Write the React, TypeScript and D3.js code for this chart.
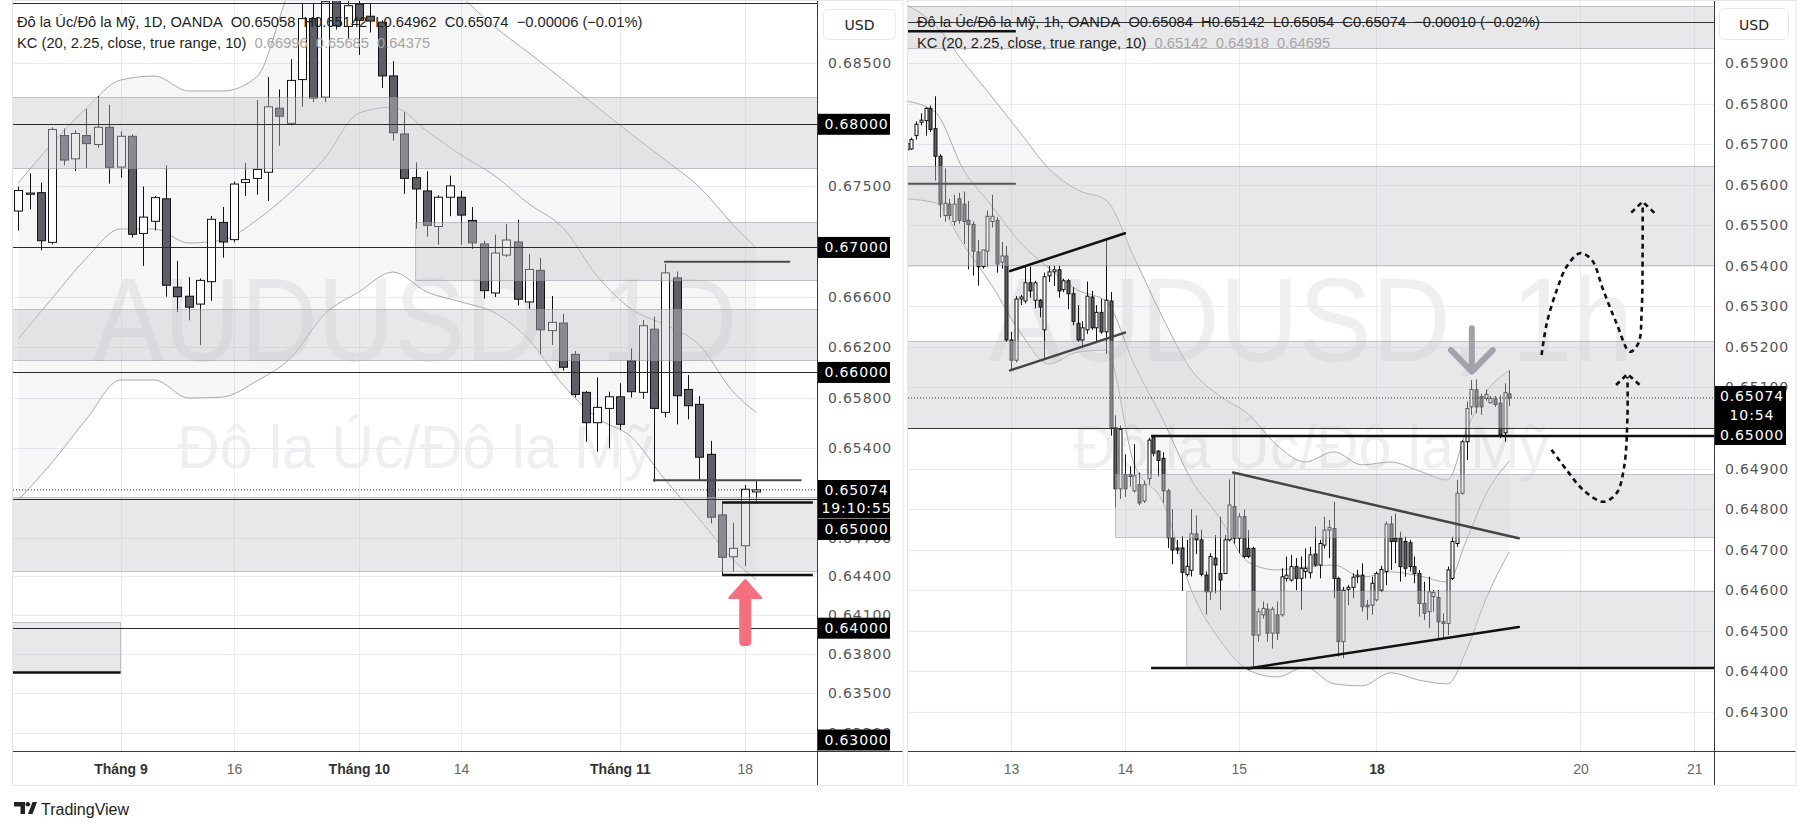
import React from "react";
import * as d3 from "d3";

type OHLC = [number, number, number, number]; // open, high, low, close

// ---------------- LEFT: AUDUSD 1D (bar 0 = 20 Aug 2024) ----------------
const dailyCandles: OHLC[] = [
  [0.67294, 0.67493, 0.67136, 0.6746], [0.6743, 0.67599, 0.67307, 0.6744], [0.67443, 0.67526, 0.66977, 0.67054],
  [0.67041, 0.67976, 0.67024, 0.67958], [0.67908, 0.67965, 0.67665, 0.67708], [0.67718, 0.67952, 0.67619, 0.67925],
  [0.67908, 0.68125, 0.67642, 0.67842], [0.67835, 0.68232, 0.67808, 0.67976], [0.67976, 0.68159, 0.67516, 0.67649],
  [0.67651, 0.67942, 0.67565, 0.67902], [0.67902, 0.67918, 0.6708, 0.67106], [0.67113, 0.67493, 0.66851, 0.67245],
  [0.67211, 0.67416, 0.67136, 0.67403], [0.67393, 0.67665, 0.66604, 0.66696], [0.6668, 0.66892, 0.6648, 0.66604],
  [0.66608, 0.66761, 0.66415, 0.6652], [0.66545, 0.66751, 0.66219, 0.66735], [0.66725, 0.67254, 0.66572, 0.67227],
  [0.67202, 0.67327, 0.66918, 0.67044], [0.67063, 0.67533, 0.67041, 0.67513], [0.67526, 0.67685, 0.67416, 0.67549],
  [0.67559, 0.68199, 0.67426, 0.67632], [0.67609, 0.68387, 0.67376, 0.68143], [0.68132, 0.68286, 0.67825, 0.68066],
  [0.68008, 0.68535, 0.6799, 0.6836], [0.68367, 0.6899, 0.68143, 0.6887], [0.6887, 0.69, 0.68182, 0.68215],
  [0.68222, 0.6908, 0.68182, 0.6901], [0.6915, 0.6937, 0.6878, 0.6881], [0.68805, 0.6905, 0.687, 0.68977],
  [0.6899, 0.691, 0.6857, 0.68856], [0.6889, 0.69, 0.68755, 0.6885], [0.6884, 0.68856, 0.68297, 0.68397],
  [0.68397, 0.68519, 0.67866, 0.67931], [0.67921, 0.68099, 0.67433, 0.67559], [0.67565, 0.67689, 0.67152, 0.67473],
  [0.67457, 0.67616, 0.67087, 0.67178], [0.67169, 0.67422, 0.67021, 0.67406], [0.67406, 0.67582, 0.67252, 0.67498],
  [0.67406, 0.67457, 0.67021, 0.67261], [0.67218, 0.67326, 0.66987, 0.67037], [0.67028, 0.67054, 0.66588, 0.66653],
  [0.66634, 0.67103, 0.66601, 0.66955], [0.66938, 0.67191, 0.66923, 0.6706], [0.67044, 0.67224, 0.66535, 0.66584],
  [0.66562, 0.66948, 0.66508, 0.66823], [0.66816, 0.66915, 0.66146, 0.66339], [0.66333, 0.6661, 0.66219, 0.66399],
  [0.66393, 0.66466, 0.66014, 0.66041], [0.66144, 0.6617, 0.65802, 0.65826], [0.65842, 0.65852, 0.65452, 0.65602],
  [0.65602, 0.65961, 0.65374, 0.65723], [0.65715, 0.65847, 0.654, 0.65807], [0.65807, 0.65914, 0.65544, 0.65589],
  [0.66093, 0.66191, 0.65802, 0.65847], [0.65842, 0.66418, 0.65791, 0.66372], [0.66344, 0.66444, 0.65138, 0.65715],
  [0.65684, 0.66868, 0.65644, 0.66795], [0.66755, 0.66806, 0.65589, 0.65815], [0.65865, 0.65979, 0.65628, 0.65736],
  [0.65747, 0.65812, 0.65146, 0.6533], [0.65353, 0.65459, 0.64812, 0.6486], [0.64878, 0.64968, 0.64411, 0.64548],
  [0.64553, 0.64817, 0.64437, 0.64618], [0.64638, 0.65112, 0.64481, 0.65079], [0.65058, 0.65142, 0.64962, 0.65074],
];
const dailyTickBars = [9, 19, 30, 39, 53, 64];
const dailyTickLabels = ["Tháng 9", "16", "Tháng 10", "14", "Tháng 11", "18"];
const dailyTickBold = [true, false, true, false, true, false];
const dailyPriceTicks = [0.685, 0.675, 0.666, 0.662, 0.658, 0.654, 0.647, 0.644, 0.641, 0.638, 0.635, 0.632];
const dailyLevels = [0.69, 0.68, 0.67, 0.66, 0.65, 0.64];
const dailyLevelBoxes = [0.68, 0.67, 0.66, 0.64, 0.63];
const dailyKCBars = [0, 3, 6, 9, 12, 15, 18, 21, 24, 27, 30, 33, 36, 39, 42, 45, 48, 51, 54, 57, 60, 63, 65];
const dailyKCUpper = [0.67522, 0.67847, 0.68133, 0.68363, 0.68396, 0.68273, 0.68273, 0.68388, 0.6912, 0.694, 0.6955, 0.6955, 0.6935, 0.6906, 0.688, 0.68586, 0.68363, 0.68141, 0.67921, 0.67708, 0.67489, 0.67181, 0.66996];
const dailyKCMid = [0.66266, 0.66594, 0.66915, 0.67149, 0.67149, 0.67036, 0.6706, 0.67221, 0.67448, 0.67724, 0.68092, 0.68141, 0.67945, 0.67749, 0.67578, 0.67351, 0.67157, 0.6677, 0.66506, 0.66378, 0.66218, 0.65844, 0.65685];
const dailyKCLower = [0.64995, 0.65292, 0.65631, 0.6594, 0.6594, 0.65797, 0.65805, 0.65932, 0.66115, 0.66466, 0.66642, 0.66802, 0.66642, 0.66562, 0.66474, 0.66258, 0.659, 0.65639, 0.65489, 0.65151, 0.64846, 0.64527, 0.64375];
// zones: [top price, bottom price, from bar, to bar] (null = panel edge)
const dailyZones: [number, number, number | null, number | null][] = [
  [0.68226, 0.67643, null, null],
  [0.67205, 0.66741, 35, null],
  [0.66506, 0.66099, null, null],
  [0.65021, 0.64441, null, null],
  [0.64049, 0.6366, null, 9],
];
// horizontal segments: [price, from bar, to bar]
const dailySegments: [number, number, number][] = [
  [0.66885, 56.9, 68],
  [0.6515, 55.9, 69],
  [0.64976, 62, 70],
  [0.64411, 62, 70],
  [0.6366, -0.6, 9],
];
const dailyArrow = { bar: 64, tip: 0.64372, base: 0.64233, tail: 0.6387 };

// ---------------- RIGHT: AUDUSD 1h (bar 0 = 12 Nov ~03:00) ----------------
const hourlyCandles: OHLC[] = [
  [0.65686, 0.65711, 0.65684, 0.65701], [0.65688, 0.65716, 0.65686, 0.65711], [0.65721, 0.65756, 0.65711, 0.65749],
  [0.65754, 0.65776, 0.65746, 0.65759], [0.65758, 0.65791, 0.65721, 0.65788], [0.65788, 0.65795, 0.6573, 0.65736],
  [0.65738, 0.65818, 0.6561, 0.6567], [0.6567, 0.65675, 0.65519, 0.65552], [0.65524, 0.6564, 0.65509, 0.65554],
  [0.65552, 0.65565, 0.65514, 0.65524], [0.65509, 0.65575, 0.65499, 0.65552], [0.65565, 0.6558, 0.65504, 0.65512],
  [0.65552, 0.65583, 0.65454, 0.65509], [0.65512, 0.6556, 0.65391, 0.65502], [0.65502, 0.65509, 0.65376, 0.65436],
  [0.65434, 0.65464, 0.65351, 0.65398], [0.65398, 0.65439, 0.65393, 0.65439], [0.65436, 0.65536, 0.65398, 0.65522],
  [0.65509, 0.65575, 0.65494, 0.65522], [0.65512, 0.6552, 0.65383, 0.65404], [0.65409, 0.65459, 0.65393, 0.65424],
  [0.65424, 0.65449, 0.65212, 0.65217], [0.65217, 0.65237, 0.65145, 0.65167], [0.65167, 0.65325, 0.65162, 0.65318],
  [0.65318, 0.65328, 0.65303, 0.65323], [0.65313, 0.65398, 0.65307, 0.65358], [0.65358, 0.65398, 0.65321, 0.65338],
  [0.65315, 0.65363, 0.65295, 0.65358], [0.65315, 0.65318, 0.65273, 0.65298], [0.65242, 0.65383, 0.65167, 0.65373],
  [0.65375, 0.654, 0.6536, 0.65385], [0.65385, 0.654, 0.6535, 0.6539], [0.6539, 0.654, 0.65321, 0.65338],
  [0.65341, 0.65368, 0.65335, 0.65363], [0.65363, 0.65367, 0.65293, 0.65331], [0.65331, 0.65347, 0.65253, 0.65263],
  [0.65258, 0.65303, 0.65212, 0.65217], [0.65217, 0.65263, 0.65197, 0.65247], [0.65242, 0.65361, 0.65232, 0.65325],
  [0.65323, 0.65338, 0.65242, 0.65247], [0.65247, 0.65303, 0.65212, 0.65285], [0.65285, 0.65318, 0.65232, 0.65237],
  [0.65237, 0.65464, 0.65182, 0.65315], [0.65313, 0.65335, 0.64981, 0.65001], [0.65001, 0.65031, 0.64804, 0.6485],
  [0.6485, 0.65006, 0.64825, 0.64996], [0.64885, 0.64935, 0.6483, 0.6485], [0.64885, 0.64905, 0.64855, 0.6488],
  [0.64845, 0.6496, 0.6484, 0.64882], [0.6486, 0.6489, 0.6481, 0.64815], [0.6482, 0.6487, 0.64815, 0.6486],
  [0.64875, 0.64976, 0.6486, 0.6497], [0.64976, 0.64981, 0.6493, 0.64938], [0.64943, 0.64945, 0.6488, 0.6492],
  [0.64925, 0.6494, 0.64815, 0.64845], [0.64845, 0.6485, 0.64704, 0.64729], [0.64729, 0.648, 0.64664, 0.64699],
  [0.64704, 0.64724, 0.64689, 0.64699], [0.64704, 0.64734, 0.64598, 0.64644], [0.64639, 0.64724, 0.64634, 0.64659],
  [0.64649, 0.648, 0.64634, 0.64739], [0.64739, 0.64784, 0.64689, 0.64724], [0.64724, 0.64749, 0.64634, 0.64639],
  [0.64637, 0.64646, 0.64539, 0.64596], [0.64596, 0.64691, 0.64576, 0.64683], [0.64679, 0.64736, 0.64592, 0.64662],
  [0.64641, 0.64781, 0.64551, 0.64625], [0.64641, 0.64736, 0.6464, 0.64724], [0.64724, 0.64873, 0.6472, 0.6481],
  [0.64806, 0.64888, 0.64715, 0.64728], [0.64728, 0.6479, 0.64691, 0.64781], [0.64781, 0.64799, 0.64679, 0.64683],
  [0.64703, 0.64748, 0.64679, 0.64683], [0.64703, 0.64707, 0.64407, 0.64489], [0.64489, 0.64555, 0.64473, 0.64547],
  [0.64539, 0.64572, 0.6453, 0.64555], [0.64553, 0.64567, 0.64473, 0.64494], [0.64494, 0.64559, 0.64456, 0.64553],
  [0.64539, 0.64572, 0.64477, 0.64494], [0.64539, 0.64654, 0.64535, 0.64633], [0.64629, 0.64683, 0.64621, 0.64637],
  [0.64625, 0.64687, 0.64621, 0.64658], [0.64658, 0.64679, 0.646, 0.64629], [0.64629, 0.64683, 0.64551, 0.64654],
  [0.64646, 0.64703, 0.64629, 0.64654], [0.64643, 0.64707, 0.64629, 0.64687], [0.64689, 0.64757, 0.64658, 0.64662],
  [0.64662, 0.64724, 0.64629, 0.64715], [0.64711, 0.64781, 0.64703, 0.64748], [0.64748, 0.64773, 0.64679, 0.64754],
  [0.64752, 0.64818, 0.6458, 0.64629], [0.64629, 0.64633, 0.64436, 0.64473], [0.64473, 0.64608, 0.64432, 0.646],
  [0.64602, 0.64613, 0.64563, 0.64607], [0.64607, 0.64641, 0.6458, 0.64632], [0.64633, 0.6465, 0.64617, 0.64637],
  [0.64637, 0.64666, 0.64547, 0.64559], [0.64563, 0.64576, 0.64526, 0.64559], [0.64563, 0.64633, 0.64539, 0.64617],
  [0.64576, 0.64646, 0.64572, 0.64641], [0.646, 0.6466, 0.64595, 0.64651], [0.64646, 0.64769, 0.64613, 0.64763],
  [0.64763, 0.64783, 0.6465, 0.6472], [0.64728, 0.64789, 0.64666, 0.6472], [0.64728, 0.64744, 0.64621, 0.64658],
  [0.6472, 0.64732, 0.64633, 0.64654], [0.64717, 0.64724, 0.64646, 0.64658], [0.64658, 0.64683, 0.64617, 0.64641],
  [0.64641, 0.6465, 0.64535, 0.64567], [0.64567, 0.64621, 0.64526, 0.64543], [0.64547, 0.64633, 0.64506, 0.64596],
  [0.64584, 0.646, 0.64547, 0.64594], [0.64582, 0.646, 0.64481, 0.64522], [0.64522, 0.64543, 0.64481, 0.64518],
  [0.64518, 0.64658, 0.64489, 0.6465], [0.64629, 0.64732, 0.64625, 0.6472], [0.64715, 0.64872, 0.64707, 0.64839],
  [0.64839, 0.6497, 0.64835, 0.64966], [0.64966, 0.65065, 0.64921, 0.65048], [0.65052, 0.65118, 0.65032, 0.65095],
  [0.65094, 0.6512, 0.65036, 0.65052], [0.65077, 0.65085, 0.65032, 0.65052], [0.65073, 0.65095, 0.65067, 0.65083],
  [0.65062, 0.65079, 0.65061, 0.65073], [0.65071, 0.65079, 0.65052, 0.65058], [0.65061, 0.65081, 0.64975, 0.64983],
  [0.64988, 0.6511, 0.64966, 0.65087], [0.65084, 0.65142, 0.65054, 0.65074],
];
const hourlyTickBars = [22, 46, 70, 99, 142, 166];
const hourlyTickLabels = ["13", "14", "15", "18", "20", "21"];
const hourlyTickBold = [false, false, false, true, false, false];
const hourlyPriceTicks = [0.659, 0.658, 0.657, 0.656, 0.655, 0.654, 0.653, 0.652, 0.651, 0.649, 0.648, 0.647, 0.646, 0.645, 0.644, 0.643];
const hourlyGrid = [0.659, 0.658, 0.657, 0.656, 0.655, 0.654, 0.653, 0.652, 0.651, 0.65, 0.649, 0.648, 0.647, 0.646, 0.645, 0.644, 0.643];
const hourlyLevels = [0.66, 0.65];
const hourlyKCBars = [0, 6, 12, 18, 24, 30, 36, 42, 48, 54, 60, 66, 72, 78, 84, 90, 96, 102, 108, 114, 118, 122, 127];
const hourlyKCUpper = [0.66043, 0.65994, 0.65902, 0.65816, 0.65727, 0.65639, 0.65587, 0.65562, 0.65419, 0.65271, 0.65143, 0.65079, 0.65034, 0.64958, 0.64916, 0.64941, 0.64909, 0.64916, 0.64894, 0.64872, 0.64995, 0.65086, 0.65142];
const hourlyKCMid = [0.65806, 0.65779, 0.65636, 0.65547, 0.65456, 0.65394, 0.6534, 0.65313, 0.65155, 0.6502, 0.64872, 0.64778, 0.64669, 0.6465, 0.64657, 0.64662, 0.64632, 0.64645, 0.64635, 0.6462, 0.64724, 0.64835, 0.64918];
const hourlyKCLower = [0.65565, 0.65555, 0.65451, 0.6535, 0.65234, 0.65158, 0.65187, 0.65192, 0.64909, 0.64817, 0.646, 0.64477, 0.64403, 0.64386, 0.6441, 0.64369, 0.64364, 0.64396, 0.64378, 0.64369, 0.64452, 0.64576, 0.64695];
const hourlyZones: [number, number, number | null, number | null][] = [
  [0.66041, 0.65937, null, null],
  [0.65646, 0.65402, null, null],
  [0.65215, 0.65, null, null],
  [0.64886, 0.6473, 44, null],
  [0.64599, 0.64408, 59, null],
];
const hourlySegments: [number, number, number][] = [
  [0.65602, -0.5, 23],
  [0.65978, -0.5, 23],
  [0.6498, 51.5, 171],
  [0.64408, 51.5, 171],
];
const hourlyTrendLines: [number, number, number, number][] = [
  [21.8, 0.65387, 46, 0.6548],
  [21.8, 0.65142, 46, 0.65235],
  [68.8, 0.6489, 129, 0.64728],
  [72, 0.64407, 129, 0.64509],
];
const hourlyArrow = { bar: 119, top: 0.65246, tip: 0.65139, armPrice: 0.65192, armBars: 4.4 };
const pathUp: [number, number][] = [
  [133.8, 0.6518], [134.9, 0.65258], [137.0, 0.6534], [139.1, 0.65398], [141.9, 0.65431], [144.4, 0.65414],
  [146.8, 0.6534], [149.6, 0.65258], [152.4, 0.65188], [154.2, 0.65209], [154.9, 0.65291], [155.1, 0.65439], [155.1, 0.65554],
];
const pathUpHead: [number, number][] = [[152.7, 0.65531], [155.1, 0.65558], [157.7, 0.65529]];
const pathLow: [number, number][] = [
  [135.9, 0.64946], [139.1, 0.64896], [142.6, 0.64847], [146.8, 0.64818], [149.6, 0.64839], [151.2, 0.64904], [151.9, 0.65028], [151.9, 0.65126],
];
const pathLowHead: [number, number][] = [[149.5, 0.65106], [151.9, 0.65133], [154.7, 0.65104]];

const FONT = "'Liberation Sans', Arial, sans-serif";
const AXFONT = "'DejaVu Sans', 'Liberation Sans', sans-serif";

type Scale = (v: number) => number;

function Candles({ data, x, y, w }: { data: OHLC[]; x: Scale; y: Scale; w: number }) {
  return (
    <g>
      {data.map(([o, h, l, c], i) => {
        const cx = Math.round(x(i));
        const top = y(Math.max(o, c));
        const bot = y(Math.min(o, c));
        return (
          <g key={i}>
            <line x1={cx + 0.5} x2={cx + 0.5} y1={y(h)} y2={y(l)} stroke="#111" strokeWidth={1} />
            <rect x={cx + 0.5 - w / 2} y={top} width={w} height={Math.max(1, bot - top)} fill={c >= o ? "#ffffff" : "#5e5e66"} stroke="#111" strokeWidth={1} />
          </g>
        );
      })}
    </g>
  );
}

function KC({ bars, up, mid, lo, x, y }: { bars: number[]; up: number[]; mid: number[]; lo: number[]; x: Scale; y: Scale }) {
  const idx = bars.map((_, i) => i);
  const line = (vals: number[]) =>
    d3.line<number>().x((i) => x(bars[i])).y((i) => y(vals[i])).curve(d3.curveMonotoneX)(idx) || "";
  const area =
    d3.area<number>().x((i) => x(bars[i])).y0((i) => y(lo[i])).y1((i) => y(up[i])).curve(d3.curveMonotoneX)(idx) || "";
  return (
    <g>
      <path d={area} fill="rgba(130,130,140,0.07)" />
      <path d={line(up)} fill="none" stroke="#aaaab0" strokeWidth={1} />
      <path d={line(mid)} fill="none" stroke="#aaaab0" strokeWidth={1} />
      <path d={line(lo)} fill="none" stroke="#aaaab0" strokeWidth={1} />
    </g>
  );
}

function Zones({ zones, x, y, x0, x1 }: { zones: [number, number, number | null, number | null][]; x: Scale; y: Scale; x0: number; x1: number }) {
  return (
    <g>
      {zones.map(([pt, pb, f, t], i) => {
        const xa = f === null ? x0 : x(f);
        const xb = t === null ? x1 : x(t);
        const ya = Math.round(y(pt)) + 0.5;
        const yb = Math.round(y(pb)) + 0.5;
        return (
          <g key={i}>
            <rect x={xa} y={ya} width={xb - xa} height={yb - ya} fill="rgba(200,200,208,0.42)" />
            <path d={`M${xa},${ya}H${xb}M${xa},${yb}H${xb}` + (f !== null ? `M${xa},${ya}V${yb}` : "") + (t !== null ? `M${xb},${ya}V${yb}` : "")} stroke="rgba(150,150,160,0.55)" strokeWidth={1} fill="none" />
          </g>
        );
      })}
    </g>
  );
}

function Watermark({ cx, big, small }: { cx: number; big: string; small: string }) {
  return (
    <g fill="rgba(120,120,132,0.12)" fontFamily={FONT} textAnchor="middle">
      <text x={cx} y={361} fontSize={118} textLength={644} lengthAdjust="spacingAndGlyphs">{big}</text>
      <text x={cx} y={468} fontSize={62} textLength={476} lengthAdjust="spacingAndGlyphs">{small}</text>
    </g>
  );
}

export default function App() {
  const L = { x0: 13, x1: 817, y0: 0, y1: 751, ax1: 903 };
  const R = { x0: 908, x1: 1714, y0: 0, y1: 751, ax1: 1796 };

  const xL = d3.scaleLinear().domain([0, 65]).range([18.35, 756.1]);
  const yL = d3.scaleLog().domain([0.64, 0.68]).range([628.2, 124.3]);
  const xR = d3.scaleLinear().domain([0, 127]).range([906.7, 1509.3]);
  const yR = d3.scaleLinear().domain([0.643, 0.659]).range([711.8, 63]);

  const fmt = d3.format(".5f");
  const lastL = dailyCandles[dailyCandles.length - 1];
  const lastR = hourlyCandles[hourlyCandles.length - 1];

  const dash = d3.line<[number, number]>().x((d) => xR(d[0])).y((d) => yR(d[1])).curve(d3.curveCatmullRom);
  const poly = d3.line<[number, number]>().x((d) => xR(d[0])).y((d) => yR(d[1]));

  const ax = dailyArrow;
  const axc = xL(ax.bar) + 0.5;
  const ha = hourlyArrow;
  const hac = xR(ha.bar) + 0.5;
  const armDx = xR(ha.bar + ha.armBars) - xR(ha.bar);

  const leftBoxY = (p: number) => Math.min(yL(p), 740);
  const axisText = { fontFamily: AXFONT, fontSize: 14, letterSpacing: 0.9 } as const;

  return (
    <svg width={1804} height={830} style={{ position: "absolute", left: 0, top: 0, background: "#fff" }} fontFamily={FONT}>
      <defs>
        <clipPath id="clipL"><rect x={L.x0} y={L.y0} width={L.x1 - L.x0} height={L.y1 - L.y0} /></clipPath>
        <clipPath id="clipR"><rect x={R.x0} y={R.y0} width={R.x1 - R.x0} height={R.y1 - R.y0} /></clipPath>
        <clipPath id="clipLAxis"><rect x={L.x1 + 1} y={0} width={L.ax1 - L.x1 - 1} height={L.y1} /></clipPath>
        <clipPath id="clipRAxis"><rect x={R.x1 + 1} y={0} width={R.ax1 - R.x1 - 1} height={R.y1} /></clipPath>
      </defs>
      <rect x={0} y={0} width={1804} height={830} fill="#fff" />

      {/* ================= LEFT PANEL ================= */}
      <g clipPath="url(#clipL)">
        <Watermark cx={(L.x0 + L.x1) / 2} big="AUDUSD, 1D" small="Đô la Úc/Đô la Mỹ" />
        {dailyPriceTicks.map((p) => (
          <line key={p} x1={L.x0} x2={L.x1} y1={Math.round(yL(p)) + 0.5} y2={Math.round(yL(p)) + 0.5} stroke="#e9ebf0" />
        ))}
        {dailyTickBars.map((b) => (
          <line key={b} x1={Math.round(xL(b)) + 0.5} x2={Math.round(xL(b)) + 0.5} y1={L.y0} y2={L.y1} stroke="#e9ebf0" />
        ))}
        <KC bars={dailyKCBars} up={dailyKCUpper} mid={dailyKCMid} lo={dailyKCLower} x={xL} y={yL} />
        <Candles data={dailyCandles} x={xL} y={yL} w={8} />
        <Zones zones={dailyZones} x={xL} y={yL} x0={L.x0} x1={L.x1} />
        {dailyLevels.map((p) => (
          <line key={p} x1={L.x0} x2={L.x1} y1={Math.round(yL(p)) + 0.5} y2={Math.round(yL(p)) + 0.5} stroke="#2b2b2b" strokeWidth={1} />
        ))}
        {dailySegments.map(([p, f, t], i) => (
          <line key={i} x1={xL(f)} x2={xL(t)} y1={yL(p)} y2={yL(p)} stroke={i < 2 ? "#4a4a4a" : "#111"} strokeWidth={i < 2 ? 2 : 2.5} />
        ))}
        <line x1={L.x0} x2={L.x1} y1={yL(lastL[3])} y2={yL(lastL[3])} stroke="#333" strokeWidth={1} strokeDasharray="1 2" />
        <path
          d={`M${axc},${yL(ax.tip)} L${axc + 16},${yL(ax.base)} L${axc + 5},${yL(ax.base)} L${axc + 5},${yL(ax.tail) - 3} Q${axc + 5},${yL(ax.tail)} ${axc + 2},${yL(ax.tail)} L${axc - 2},${yL(ax.tail)} Q${axc - 5},${yL(ax.tail)} ${axc - 5},${yL(ax.tail) - 3} L${axc - 5},${yL(ax.base)} L${axc - 16},${yL(ax.base)} Z`}
          fill="#f5707e"
          stroke="#f5707e"
          strokeWidth={2}
          strokeLinejoin="round"
        />
      </g>
      {/* left header */}
      <text x={17} y={27} fontSize={14.7} fill="#1e1e1e">
        {`Đô la Úc/Đô la Mỹ, 1D, OANDA\u00a0\u00a0O${fmt(lastL[0])}\u00a0\u00a0H${fmt(lastL[1])}\u00a0\u00a0L${fmt(lastL[2])}\u00a0\u00a0C${fmt(lastL[3])}\u00a0\u00a0−0.00006 (−0.01%)`}
      </text>
      <text x={17} y={48} fontSize={14.7} fill="#1e1e1e">
        KC (20, 2.25, close, true range, 10)
        <tspan fill="#a6a6a6">{`\u00a0\u00a0${fmt(dailyKCUpper[dailyKCUpper.length - 1])}\u00a0\u00a0${fmt(dailyKCMid[dailyKCMid.length - 1])}\u00a0\u00a0${fmt(dailyKCLower[dailyKCLower.length - 1])}`}</tspan>
      </text>
      {/* left axes */}
      <line x1={L.x1 + 0.5} x2={L.x1 + 0.5} y1={0} y2={786} stroke="#3a3a3a" />
      <line x1={L.x0} x2={L.ax1} y1={L.y1 + 0.5} y2={L.y1 + 0.5} stroke="#3a3a3a" />
      <rect x={12.5} y={0.5} width={L.ax1 - 12.5} height={785} fill="none" stroke="#e3e5ea" />
      <rect x={823.5} y={9.5} width={72} height={30} rx={5} fill="#fff" stroke="#e6e8ec" />
      <text x={859.5} y={29.5} fontSize={14} textAnchor="middle" fill="#222" fontFamily={AXFONT}>USD</text>
      <g {...axisText} textAnchor="middle" clipPath="url(#clipLAxis)">
        {dailyPriceTicks.map((p) => (
          <text key={p} x={860} y={yL(p) + 5} fill="#555">{fmt(p)}</text>
        ))}
        {dailyLevelBoxes.map((p) => (
          <g key={p}>
            <rect x={818} y={leftBoxY(p) - 10.5} width={72} height={21} fill="#000" />
            <text x={856.5} y={leftBoxY(p) + 5} fill="#fff">{fmt(p)}</text>
          </g>
        ))}
        <rect x={818} y={480} width={72} height={38} fill="#000" />
        <text x={856.5} y={494.5} fill="#fff">{fmt(lastL[3])}</text>
        <text x={856.5} y={512.5} fill="#fff">19:10:55</text>
        <rect x={818} y={518.5} width={72} height={21.5} fill="#000" />
        <text x={856.5} y={534} fill="#fff">{fmt(0.65)}</text>
      </g>
      <g fontSize={14} textAnchor="middle">
        {dailyTickBars.map((b, i) => (
          <text key={b} x={xL(b) + 0.5} y={774} fill={dailyTickBold[i] ? "#333" : "#666"} fontWeight={dailyTickBold[i] ? 700 : 400}>{dailyTickLabels[i]}</text>
        ))}
      </g>

      {/* ================= RIGHT PANEL ================= */}
      <g clipPath="url(#clipR)">
        <Watermark cx={(R.x0 + R.x1) / 2} big="AUDUSD, 1h" small="Đô la Úc/Đô la Mỹ" />
        {hourlyGrid.map((p) => (
          <line key={p} x1={R.x0} x2={R.x1} y1={Math.round(yR(p)) + 0.5} y2={Math.round(yR(p)) + 0.5} stroke="#e9ebf0" />
        ))}
        {hourlyTickBars.map((b) => (
          <line key={b} x1={Math.round(xR(b)) + 0.5} x2={Math.round(xR(b)) + 0.5} y1={R.y0} y2={R.y1} stroke="#e9ebf0" />
        ))}
        <KC bars={hourlyKCBars} up={hourlyKCUpper} mid={hourlyKCMid} lo={hourlyKCLower} x={xR} y={yR} />
        <Candles data={hourlyCandles} x={xR} y={yR} w={3} />
        <Zones zones={hourlyZones} x={xR} y={yR} x0={R.x0} x1={R.x1} />
        {hourlyLevels.map((p) => (
          <line key={p} x1={R.x0} x2={R.x1} y1={Math.round(yR(p)) + 0.5} y2={Math.round(yR(p)) + 0.5} stroke="#333" strokeWidth={1} />
        ))}
        {hourlySegments.map(([p, f, t], i) => (
          <line key={i} x1={xR(f)} x2={xR(t)} y1={yR(p)} y2={yR(p)} stroke={i === 0 ? "#555" : "#111"} strokeWidth={i === 0 ? 2 : 2.5} />
        ))}
        {hourlyTrendLines.map(([b0, p0, b1, p1], i) => (
          <line key={i} x1={xR(b0)} y1={yR(p0)} x2={xR(b1)} y2={yR(p1)} stroke={i === 0 || i === 3 ? "#111" : "#444"} strokeWidth={2.5} strokeLinecap="round" />
        ))}
        <line x1={R.x0} x2={R.x1} y1={yR(lastR[3])} y2={yR(lastR[3])} stroke="#333" strokeWidth={1} strokeDasharray="1 2" />
        <path
          d={`M${hac},${yR(ha.top)} L${hac},${yR(ha.tip)} M${hac - armDx},${yR(ha.armPrice)} L${hac},${yR(ha.tip)} L${hac + armDx},${yR(ha.armPrice)}`}
          fill="none"
          stroke="#a2a2aa"
          strokeWidth={6}
          strokeLinecap="round"
          strokeLinejoin="round"
        />
        <g fill="none" stroke="#111" strokeWidth={2.6} strokeDasharray="5 4">
          <path d={dash(pathUp) || ""} />
          <path d={poly(pathUpHead) || ""} />
          <path d={dash(pathLow) || ""} />
          <path d={poly(pathLowHead) || ""} />
        </g>
      </g>
      <text x={917} y={27} fontSize={14.7} fill="#1e1e1e">
        {`Đô la Úc/Đô la Mỹ, 1h, OANDA\u00a0\u00a0O${fmt(lastR[0])}\u00a0\u00a0H${fmt(lastR[1])}\u00a0\u00a0L${fmt(lastR[2])}\u00a0\u00a0C${fmt(lastR[3])}\u00a0\u00a0−0.00010 (−0.02%)`}
      </text>
      <text x={917} y={48} fontSize={14.7} fill="#1e1e1e">
        KC (20, 2.25, close, true range, 10)
        <tspan fill="#a6a6a6">{`\u00a0\u00a0${fmt(hourlyKCUpper[hourlyKCUpper.length - 1])}\u00a0\u00a0${fmt(hourlyKCMid[hourlyKCMid.length - 1])}\u00a0\u00a0${fmt(hourlyKCLower[hourlyKCLower.length - 1])}`}</tspan>
      </text>
      <line x1={R.x1 + 0.5} x2={R.x1 + 0.5} y1={0} y2={786} stroke="#3a3a3a" />
      <line x1={R.x0} x2={R.ax1} y1={R.y1 + 0.5} y2={R.y1 + 0.5} stroke="#3a3a3a" />
      <rect x={907.5} y={0.5} width={R.ax1 - 907.5} height={785} fill="none" stroke="#e3e5ea" />
      <rect x={1719.5} y={8.5} width={69} height={31} rx={5} fill="#fff" stroke="#e6e8ec" />
      <text x={1754} y={29.5} fontSize={14} textAnchor="middle" fill="#222" fontFamily={AXFONT}>USD</text>
      <g {...axisText} textAnchor="middle" clipPath="url(#clipRAxis)">
        {hourlyPriceTicks.map((p) => (
          <text key={p} x={1757} y={yR(p) + 5} fill="#555">{fmt(p)}</text>
        ))}
        <rect x={1715} y={386} width={71} height={59} fill="#000" />
        <text x={1752} y={400.5} fill="#fff">{fmt(lastR[3])}</text>
        <text x={1752} y={420} fill="#fff">10:54</text>
        <text x={1752} y={440} fill="#fff">{fmt(0.65)}</text>
      </g>
      <g fontSize={14} textAnchor="middle">
        {hourlyTickBars.map((b, i) => (
          <text key={b} x={xR(b) + 0.5} y={774} fill={hourlyTickBold[i] ? "#333" : "#666"} fontWeight={hourlyTickBold[i] ? 700 : 400}>{hourlyTickLabels[i]}</text>
        ))}
      </g>

      {/* TradingView logo */}
      <g fill="#222">
        <path d="M14,802 h11 v12 h-4.5 v-7.5 h-6.5 z" />
        <circle cx={27.8} cy={804.3} r={2.3} />
        <path d="M28,814 l4.5,-12 h4.5 l-4.5,12 z" />
        <text x={41} y={814.5} fontSize={16}>TradingView</text>
      </g>
    </svg>
  );
}
